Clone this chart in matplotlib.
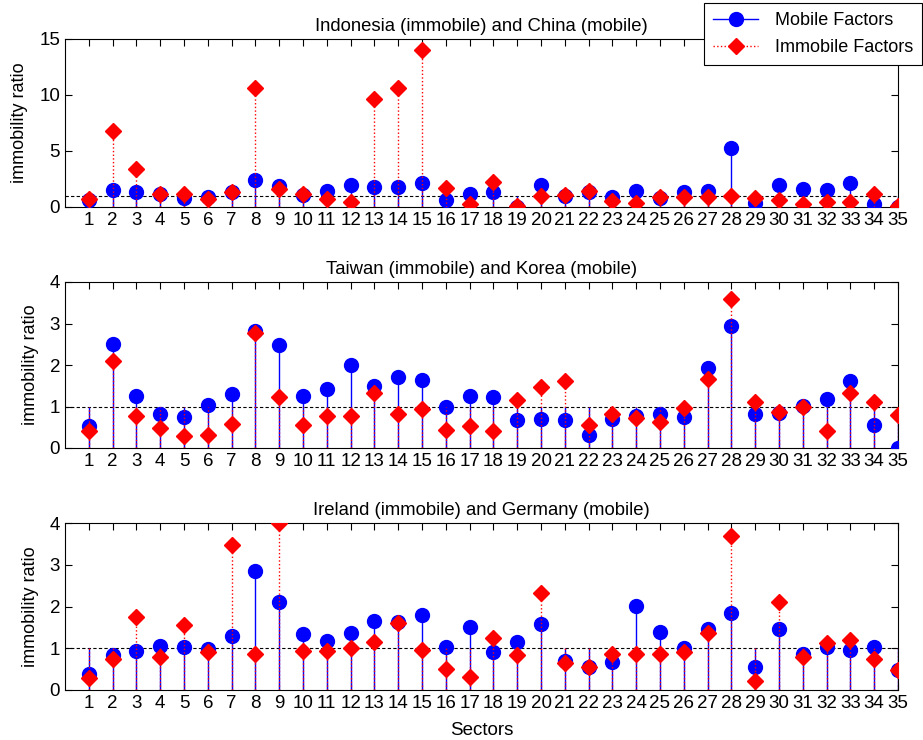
import numpy as np
import matplotlib.pyplot as plt
from matplotlib.lines import Line2D

plt.rcParams['font.family'] = ['Liberation Sans', 'DejaVu Sans']

sectors = np.arange(1, 36)

# Indonesia (immobile) and China (mobile)
mob_1 = [0.65, 1.55, 1.31, 1.12, 0.8, 0.93, 1.3, 2.4, 1.88, 1.1, 1.43, 1.98, 1.82, 1.76, 2.12, 0.66, 1.13,
         1.35, 0.0, 1.97, 1.0, 1.35, 0.85, 1.41, 0.8, 1.3, 1.41, 5.25, 0.38, 1.97, 1.62, 1.53, 2.18, 0.26, 0.0]
imm_1 = [0.75, 6.8, 3.4, 1.15, 1.2, 0.75, 1.35, 10.65, 1.64, 1.12, 0.75, 0.45, 9.65, 10.6, 14.0, 1.7, 0.24,
         2.26, 0.05, 0.97, 1.06, 1.41, 0.55, 0.38, 0.88, 0.86, 0.9, 0.97, 0.8, 0.65, 0.24, 0.44, 0.44, 1.18, 0.05]

# Taiwan (immobile) and Korea (mobile)
mob_2 = [0.52, 2.5, 1.26, 0.81, 0.75, 1.03, 1.29, 2.83, 2.47, 1.26, 1.41, 1.99, 1.5, 1.7, 1.64, 1.0, 1.26,
         1.22, 0.67, 0.7, 0.67, 0.32, 0.7, 0.78, 0.81, 0.74, 1.92, 2.94, 0.83, 0.85, 1.01, 1.18, 1.61, 0.55, 0.0]
imm_2 = [0.4, 2.1, 0.78, 0.48, 0.3, 0.31, 0.58, 2.76, 1.24, 0.56, 0.78, 0.76, 1.32, 0.82, 0.95, 0.44, 0.54,
         0.42, 1.15, 1.46, 1.62, 0.56, 0.82, 0.72, 0.62, 0.96, 1.66, 3.58, 1.1, 0.86, 1.0, 0.4, 1.33, 1.11, 0.79]

# Ireland (immobile) and Germany (mobile)
mob_3 = [0.38, 0.84, 0.94, 1.06, 1.03, 0.98, 1.3, 2.86, 2.1, 1.34, 1.18, 1.37, 1.65, 1.63, 1.79, 1.04, 1.5,
         0.92, 1.14, 1.58, 0.69, 0.55, 0.67, 2.02, 1.38, 1.0, 1.46, 1.84, 0.55, 1.46, 0.87, 1.03, 0.95, 1.03, 0.49]
imm_3 = [0.28, 0.74, 1.74, 0.78, 1.56, 0.92, 3.47, 0.87, 4.0, 0.94, 0.94, 1.0, 1.16, 1.6, 0.97, 0.51, 0.32,
         1.24, 0.85, 2.32, 0.64, 0.54, 0.86, 0.86, 0.86, 0.92, 1.36, 3.68, 0.22, 2.1, 0.8, 1.12, 1.2, 0.74, 0.48]

titles = ['Indonesia (immobile) and China (mobile)',
          'Taiwan (immobile) and Korea (mobile)',
          'Ireland (immobile) and Germany (mobile)']
panels = [(mob_1, imm_1, 15, [0, 5, 10, 15]),
          (mob_2, imm_2, 4, [0, 1, 2, 3, 4]),
          (mob_3, imm_3, 4, [0, 1, 2, 3, 4])]

W, H = 923, 740
fig = plt.figure(figsize=(W / 100, H / 100), dpi=100)

# axes boxes in pixels: (top, bottom)
boxes = [(39, 207), (282, 448), (523, 690)]
left, right = 65, 898

blue = '#0000ff'
red = '#ff0000'

for i, ((mob, imm, ymax, yt), (top, bot)) in enumerate(zip(panels, boxes)):
    ax = fig.add_axes([left / W, 1 - bot / H, (right - left) / W, (bot - top) / H])
    mob = np.array(mob)
    imm = np.array(imm)

    ax.axhline(1, color='black', linestyle=(0, (3, 2)), linewidth=0.8, zorder=1)

    ax.vlines(sectors, 0, np.maximum(mob, 1), colors=blue, linewidth=1.0, zorder=2)
    ax.plot(sectors, mob, 'o', color=blue, markersize=10, zorder=3)
    ax.vlines(sectors, 0, np.maximum(imm, 1), colors=red, linestyles=':', linewidth=1.0, zorder=4)
    ax.plot(sectors, imm, 'D', color=red, markersize=8.5, zorder=5)

    ax.set_xlim(0, 35)
    ax.set_ylim(0, ymax)
    ax.set_xticks(sectors)
    ax.set_yticks(yt)
    ax.tick_params(direction='in', top=True, right=True, length=5, labelsize=13.5, width=0.8)
    ax.set_title(titles[i], fontsize=13.3, pad=6)
    ax.set_ylabel('immobility ratio', fontsize=13, labelpad=8)
    for s in ax.spines.values():
        s.set_linewidth(0.8)
    if i == 2:
        ax.set_xlabel('Sectors', fontsize=13.5, labelpad=7)

handles = [Line2D([], [], color=blue, linestyle='-', marker='o', markersize=10, linewidth=1.0),
           Line2D([], [], color=red, linestyle=':', marker='D', markersize=8.5, linewidth=1.0)]
fig.legend(handles, ['Mobile Factors', 'Immobile Factors'], loc='upper right',
           bbox_to_anchor=(922 / W, 1 - 3 / H), borderaxespad=0, fancybox=False,
           edgecolor='black', framealpha=1, fontsize=13, handlelength=2.5,
           borderpad=0.5, labelspacing=0.55, handletextpad=0.9).get_frame().set_linewidth(0.8)

fig.savefig('out.png', dpi=100)
